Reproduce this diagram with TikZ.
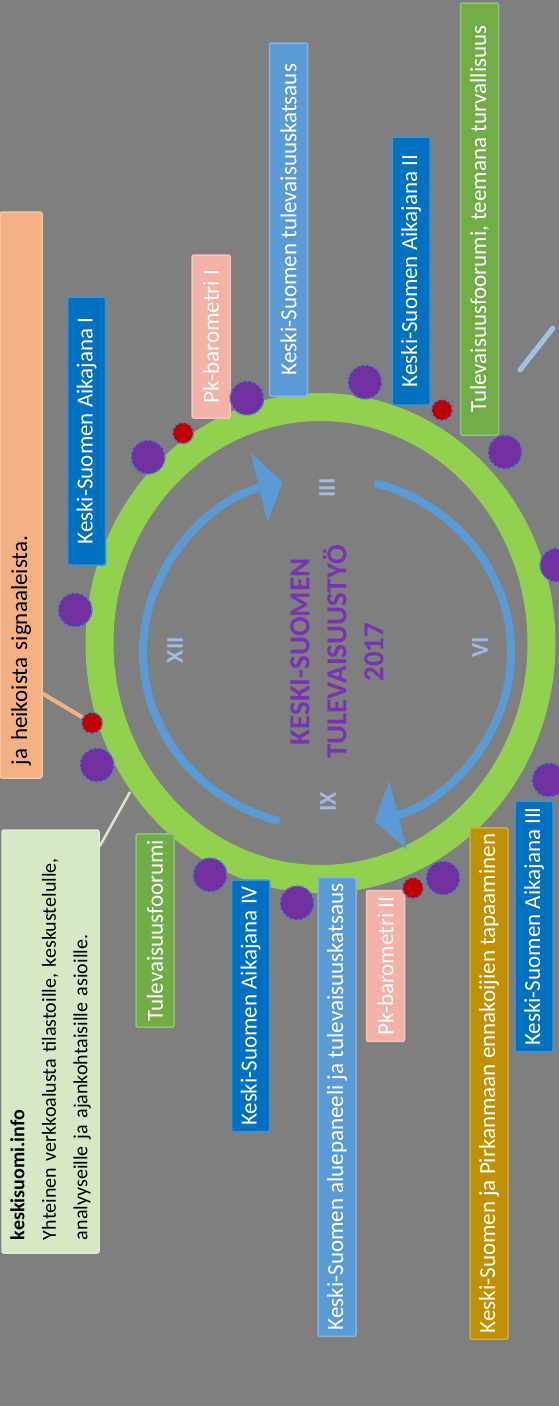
\documentclass[tikz,border=0pt]{standalone}
\usepackage{fontspec}
\setmainfont{Carlito}
\usetikzlibrary{arrows.meta, calc}

\definecolor{backgray}{RGB}{127,127,127}
\definecolor{ringgreen}{RGB}{146,208,80}
\definecolor{dotpurple}{RGB}{112,48,160}
\definecolor{dotred}{RGB}{192,0,0}
\definecolor{dotedge}{RGB}{79,129,189}
\definecolor{aikablue}{RGB}{0,112,192}
\definecolor{skyblue}{RGB}{91,155,213}
\definecolor{forumgreen}{RGB}{112,173,71}
\definecolor{baropink}{RGB}{244,177,167}
\definecolor{signalorange}{RGB}{244,177,131}
\definecolor{meetgold}{RGB}{191,144,0}
\definecolor{infogreen}{RGB}{214,232,198}
\definecolor{titlepurple}{RGB}{120,50,180}
\definecolor{numeralblue}{RGB}{160,185,230}
\definecolor{arrowblue}{RGB}{91,155,213}

\tikzset{
	bar/.style = {rotate = 90, minimum height = 38pt, inner xsep = 6pt, inner ysep = 0pt,
		rounded corners = 2pt, line width = 1.5pt, text = white, font = \fontsize{23}{27}\selectfont},
	aika/.style = {bar, fill = aikablue, draw = aikablue!75!white},
	katsaus/.style = {bar, fill = skyblue, draw = skyblue!75!white},
	forum/.style = {bar, fill = forumgreen, draw = forumgreen!75!white},
	baro/.style = {bar, fill = baropink, draw = baropink!75!white},
	meet/.style = {bar, fill = meetgold, draw = meetgold!75!white},
	pdot/.style = {circle, inner sep = 0pt, minimum size = 34pt, fill = dotpurple,
		draw = dotedge, densely dashed, line width = 1.5pt},
	rdot/.style = {circle, inner sep = 0pt, minimum size = 21pt, fill = dotred,
		draw = dotedge, densely dashed, line width = 1.5pt},
	numeral/.style = {rotate = 90, text = numeralblue, font = \fontsize{24}{28}\selectfont\bfseries},
	cycle arrow/.style = {arrowblue, line width = 8pt, -{Triangle[width = 70pt, length = 24pt]}}
}

\begin{document}
\begin{tikzpicture}[x = 1pt, y = 1pt]

	% Background (1 unit = 1 px of the original)
	
	\fill [backgray] (0, 0) rectangle (559, -1406);
	\useasboundingbox (0, 0) rectangle (559, -1406);
	
	% Connectors to the ring
	
	\coordinate (ringA) at (130, -792);
	\coordinate (sideA) at (520, -370);
	\coordinate (sideB) at (553, -328);
	
	\draw [skyblue!60!white, line width = 5pt, line cap = round] (sideA) -- (sideB);
	
	% Ring
	
	\draw [ringgreen, line width = 28pt] (320.5, -643) ellipse [x radius = 221, y radius = 236];
	
	% Cycle arrows
	
	\draw [cycle arrow] (327, -652) ++(255:184 and 175) arc [start angle = 255, end angle = 104, x radius = 184, y radius = 175];
	\draw [cycle arrow] (327, -652) ++(75:184 and 175) arc [start angle = 75, end angle = -75, x radius = 184, y radius = 175];
	
	% Title + months
	
	\node [rotate = 90, align = center, text = titlepurple, font = \fontsize{29}{37}\selectfont\bfseries]
		(title) at (337, -652) {KESKI-SUOMEN\\TULEVAISUUSTYÖ\\2017};
	
	\node [numeral] (xii) at (175, -650) {XII};
	\node [numeral] (iii) at (327, -488) {III};
	\node [numeral] (vi) at (480, -647) {VI};
	\node [numeral] (ix) at (328, -802) {IX};
	
	% Events, upper side
	
	\node [bar, fill = signalorange, draw = signalorange!75!white, text = black, minimum height = 42pt,
		text width = 540pt, inner xsep = 13pt, align = left] (signal) at (21, -495) {ja heikoista signaaleista.};
	\node [aika, minimum width = 268pt] (aika1) at (86.5, -431) {Keski-Suomen Aikajana I};
	\node [baro, minimum width = 163pt] (baro1) at (211, -336.5) {Pk-barometri I};
	\node [katsaus, minimum width = 353pt] (katsaus1) at (288.5, -219.5) {Keski-Suomen tulevaisuuskatsaus};
	\node [aika, minimum width = 268pt] (aika2) at (411, -271) {Keski-Suomen Aikajana II};
	\node [forum, minimum width = 432pt] (forum2) at (479.5, -219) {Tulevaisuusfoorumi, teemana turvallisuus};
	
	% Events, lower side
	
	\node [aika, minimum width = 237pt] (aika3) at (534, -926.5) {Keski-Suomen Aikajana III};
	\node [meet, minimum width = 473pt] (meet) at (489, -1083.5) {Keski-Suomen ja Pirkanmaan ennakoijien tapaaminen};
	\node [baro, minimum width = 148pt] (baro2) at (385.5, -966) {Pk-barometri II};
	\node [katsaus, minimum width = 426pt] (katsaus2) at (337, -1107) {Keski-Suomen aluepaneeli ja tulevaisuuskatsaus};
	\node [aika, minimum width = 238pt] (aika4) at (250.5, -1006) {Keski-Suomen Aikajana IV};
	\node [forum, minimum width = 187pt] (forum1) at (155, -930.5) {Tulevaisuusfoorumi};
	
	\node [bar, fill = infogreen, draw = infogreen!80!white, text = black, minimum height = 97pt,
		text width = 397pt, inner xsep = 13pt, align = left, font = \fontsize{20}{31.5}\selectfont]
		(info) at (50.5, -1041.5) {\textbf{keskisuomi.info}\\Yhteinen verkkoalusta tilastoille, keskustelulle,\\analyyseille ja ajankohtaisille asioille.};
	
	\draw [infogreen, line width = 2.5pt] ($(info.south west)!0.96!(info.south east)$) -- (ringA);
	
	% Dots on the ring
	
	\foreach \name/\x/\y in {p1/247/398, p2/148/457, p3/365/382, p4/505/452, p5/75/610, p6/97/765,
		p7/557/565, p8/549/780, p9/210/875, p10/297/903, p11/443/878}
		\node [pdot] (\name) at (\x, -\y) {};
	
	\foreach \name/\x/\y in {r1/183/433, r2/442/410, r3/92/723, r4/413/888}
		\node [rdot] (\name) at (\x, -\y) {};
	
	\draw [signalorange, line width = 4pt] ($(signal.south west)!0.15!(signal.south east)$) -- (r3);
	
\end{tikzpicture}
\end{document}
